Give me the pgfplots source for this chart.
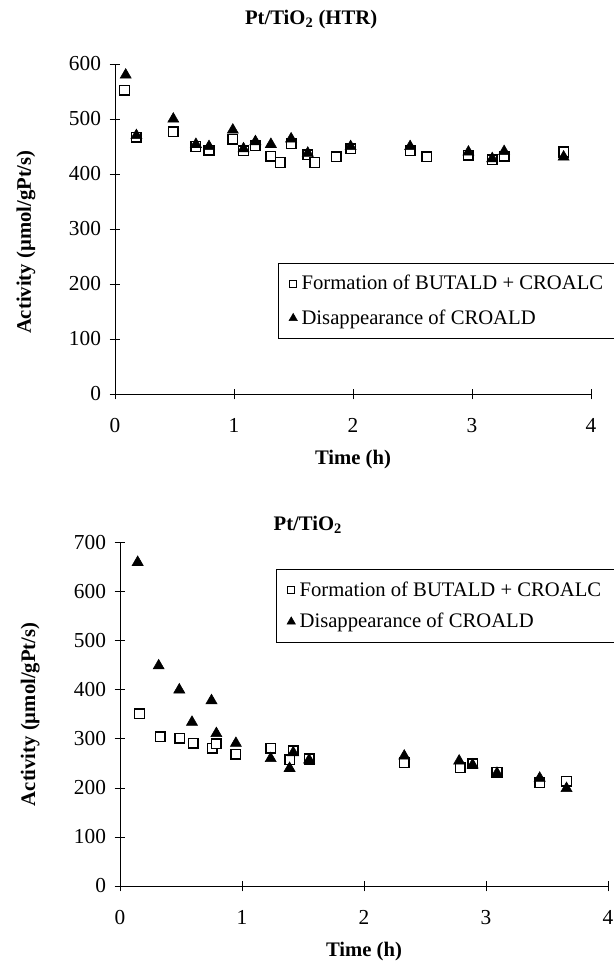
\documentclass[border=0pt]{standalone}
\usepackage{pgfplots}
\pgfplotsset{compat=1.18}
\usepackage{fontspec}
\setmainfont{Liberation Serif}

\pgfplotsset{
  myaxis/.style={
    scale only axis,
    clip=false,
    xmin=0, xmax=4,
    ymin=0,
    xtick={0,1,2,3,4},
    axis x line*=bottom,
    axis y line*=left,
    axis line style={black, line width=0.7pt},
    tick style={black, line width=0.6pt},
    tick align=center,
    major tick length=8pt,
    /pgf/number format/assume math mode=true,
    ticklabel style={font=\fontsize{16}{18}\selectfont},
    xticklabel style={yshift=-11pt},
    yticklabel style={xshift=-3pt},
    label style={font=\bfseries\fontsize{15.5}{17}\selectfont},
    title style={font=\bfseries\fontsize{15.5}{17}\selectfont, anchor=center, yshift=0pt},
    legend cell align=left,
    legend style={draw=black, line width=0.6pt, anchor=north west,
      font=\fontsize{15.5}{17.5}\selectfont, inner xsep=8pt, inner ysep=7pt},
  },
  sq/.style={only marks, mark=square*, mark size=3.6pt, mark options={fill=white, draw=black, line width=1.1pt},
    legend image code/.code={\draw[#1, mark size=2.5pt, mark options={fill=white, draw=black, line width=0.7pt}] plot coordinates {(0.1cm,0cm)}; \path[draw=none, fill=none] (0cm,0cm) -- (0.25cm,0cm);}},
  tri/.style={only marks, mark=triangle*, mark size=4.8pt, mark options={fill=black, draw=black, line width=0.4pt},
    legend image code/.code={\draw[#1, mark size=3.6pt] plot coordinates {(0.1cm,0cm)}; \path[draw=none, fill=none] (0cm,0cm) -- (0.25cm,0cm);}},
}

\begin{document}
\begin{tikzpicture}
\useasboundingbox (0,0) rectangle (460.5pt,720.75pt);

% ---------- Top: Pt/TiO2 (HTR) ----------
\begin{axis}[myaxis,
  at={(86.25pt,425.25pt)}, anchor=south west,
  width=357pt, height=247.5pt,
  ymax=600, ytick={0,100,...,600},
  title={Pt/TiO\textsubscript{2} (HTR)},
  title style={at={(axis description cs:0.412,1.111)}},
  xlabel={Time (h)},
  xlabel style={at={(axis description cs:0.5,-0.2)}, anchor=center},
  ylabel={Activity (\textmu mol/gPt/s)},
  ylabel style={at={(axis description cs:-0.187,0.46)}, anchor=center},
  legend style={at={(axis description cs:0.3424,0.397)}, row sep=9.5pt},
]
\addplot[sq] coordinates {
(0.08,552) (0.18,467) (0.49,477) (0.68,450) (0.79,443) (0.99,463)
(1.08,442) (1.18,451) (1.31,432) (1.39,421) (1.48,455) (1.62,435)
(1.68,421) (1.86,431) (1.98,446) (2.48,442) (2.62,431) (2.97,434)
(3.17,426) (3.27,432) (3.77,440)
};
\addlegendentry{Formation of BUTALD + CROALC}
\addplot[tri] coordinates {
(0.09,580) (0.18,470) (0.49,500) (0.68,454) (0.79,450) (0.99,480)
(1.08,446) (1.18,459) (1.31,454) (1.48,464) (1.62,438) (1.98,450)
(2.48,450) (2.97,440) (3.17,428) (3.27,441) (3.77,431)
};
\addlegendentry{Disappearance of CROALD}
\end{axis}

% ---------- Bottom: Pt/TiO2 ----------
\begin{axis}[myaxis,
  at={(90pt,56.25pt)}, anchor=south west,
  width=366pt, height=257.5pt,
  ymax=700, ytick={0,100,...,700},
  title={Pt/TiO\textsubscript{2}},
  title style={at={(axis description cs:0.385,1.028)}},
  xlabel={Time (h)},
  xlabel style={at={(axis description cs:0.5,-0.192)}, anchor=center},
  ylabel={Activity (\textmu mol/gPt/s)},
  ylabel style={at={(axis description cs:-0.184,0.5)}, anchor=center},
  legend style={at={(axis description cs:0.3197,0.923)}, row sep=7.5pt},
]
\addplot[sq] coordinates {
(0.16,351) (0.33,304) (0.49,301) (0.60,291) (0.757,281) (0.79,290)
(0.95,269) (1.235,281) (1.39,257) (1.42,276) (1.55,259) (2.33,251)
(2.79,241) (2.89,249) (3.09,232) (3.44,211) (3.66,214)
};
\addlegendentry{Formation of BUTALD + CROALC}
\addplot[tri] coordinates {
(0.145,660) (0.317,449) (0.486,400) (0.59,334) (0.75,378) (0.79,311)
(0.95,291) (1.235,260) (1.39,240) (1.42,272) (1.55,257) (2.33,265)
(2.78,255) (2.89,247) (3.09,230) (3.44,220) (3.66,199)
};
\addlegendentry{Disappearance of CROALD}
\end{axis}
\end{tikzpicture}
\end{document}
